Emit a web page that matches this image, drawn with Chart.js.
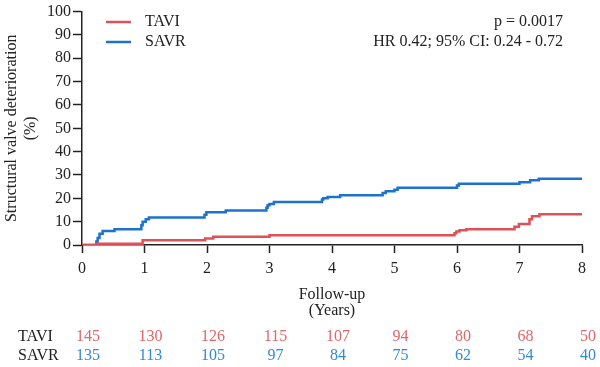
<!DOCTYPE html>
<html>
<head>
<meta charset="utf-8">
<script src="https://cdn.jsdelivr.net/npm/chart.js@4"></script>
<style>
  html, body { margin: 0; padding: 0; background: #fff; }
  #wrap { width: 600px; height: 367px; }
</style>
</head>
<body>
<div id="wrap"><canvas id="svdChart" width="600" height="367"></canvas></div>
<script>
// Cumulative incidence of structural valve deterioration (%)
const taviTimes  = [0, 0.23, 0.97, 1.97, 2.10, 3.00, 5.96, 5.99, 6.04, 6.15, 6.92, 6.99, 7.16, 7.20, 7.32, 8];
const taviValues = [0, 0.5, 2.0, 2.8, 3.5, 4.2, 5.0, 5.8, 6.3, 6.8, 7.8, 9.0, 11.0, 12.3, 13.2, 13.2];

const savrTimes  = [0, 0.23, 0.25, 0.28, 0.33, 0.52, 0.95, 0.97, 1.02, 1.07, 1.96, 1.99, 2.30, 2.95, 2.97, 3.00, 3.07,
                    3.84, 3.86, 3.93, 4.13, 4.81, 4.86, 5.00, 5.05, 6.00, 6.03, 7.00, 7.17, 7.31, 8];
const savrValues = [0, 1.5, 3.0, 4.8, 6.0, 6.7, 8.5, 10.0, 11.0, 11.8, 13.0, 14.0, 14.8, 16.0, 17.0, 17.6, 18.4,
                    19.5, 20.0, 20.6, 21.3, 22.3, 23.0, 23.7, 24.5, 25.5, 26.2, 26.9, 27.7, 28.4, 28.4];

// numbers at risk
const riskYears = [0, 1, 2, 3, 4, 5, 6, 7, 8];
const taviAtRisk = [145, 130, 126, 115, 107, 94, 80, 68, 50];
const savrAtRisk = [135, 113, 105, 97, 84, 75, 62, 54, 40];

const statLines = ['p = 0.0017', 'HR 0.42; 95% CI: 0.24 - 0.72'];

const taviColor = '#DE5158';
const savrColor = '#1E72CF';
const taviTextColor = '#E0676B';
const savrTextColor = '#3389D5';
const FONT = '"Liberation Serif", "Times New Roman", serif';

function toPoints(xs, ys) {
    return xs.map((x, i) => ({ x: x, y: ys[i] }));
}

// legend, stats text and the at-risk table
const extrasPlugin = {
    id: 'extras',
    afterDraw(chart) {
        const ctx = chart.ctx;
        const xScale = chart.scales.x;
        ctx.save();
        ctx.font = '16px ' + FONT;
        ctx.textBaseline = 'middle';

        // legend
        const legendRows = [22, 42];
        chart.data.datasets.forEach((ds, i) => {
            ctx.strokeStyle = ds.borderColor;
            ctx.lineWidth = 2.5;
            ctx.beginPath();
            ctx.moveTo(106, legendRows[i]);
            ctx.lineTo(131, legendRows[i]);
            ctx.stroke();
            ctx.fillStyle = '#222';
            ctx.textAlign = 'left';
            ctx.fillText(ds.label, 145, legendRows[i]);
        });

        // p value / HR
        ctx.textAlign = 'right';
        ctx.fillStyle = '#222';
        ctx.fillText(statLines[0], 563, 22);
        ctx.fillText(statLines[1], 563, 42);

        // numbers at risk
        const rows = [
            { label: 'TAVI', values: taviAtRisk, color: taviTextColor, y: 337 },
            { label: 'SAVR', values: savrAtRisk, color: savrTextColor, y: 356 }
        ];
        rows.forEach(r => {
            ctx.textAlign = 'left';
            ctx.fillStyle = '#222';
            ctx.fillText(r.label, 18, r.y);
            ctx.textAlign = 'center';
            ctx.fillStyle = r.color;
            riskYears.forEach((yr, i) => {
                ctx.fillText(String(r.values[i]), xScale.getPixelForValue(yr) + 6, r.y);
            });
        });
        ctx.restore();
    }
};

function initChart() {
    const ctx = document.getElementById('svdChart').getContext('2d');
    new Chart(ctx, {
        type: 'line',
        data: {
            datasets: [
                {
                    label: 'TAVI',
                    data: toPoints(taviTimes, taviValues),
                    borderColor: taviColor,
                    borderWidth: 2.5,
                    stepped: 'before',
                    pointRadius: 0,
                    fill: false
                },
                {
                    label: 'SAVR',
                    data: toPoints(savrTimes, savrValues),
                    borderColor: savrColor,
                    borderWidth: 2.5,
                    stepped: 'before',
                    pointRadius: 0,
                    fill: false
                }
            ]
        },
        options: {
            responsive: false,
            animation: false,
            layout: { padding: { top: 10, right: 18, bottom: 48, left: 0 } },
            plugins: {
                legend: { display: false },
                tooltip: { enabled: false }
            },
            scales: {
                x: {
                    type: 'linear',
                    min: 0,
                    max: 8,
                    afterFit(scale) { scale.height = 74; },
                    ticks: {
                        stepSize: 1,
                        color: '#222',
                        padding: 6,
                        maxRotation: 0,
                        font: { family: FONT, size: 16 }
                    },
                    grid: { drawOnChartArea: false, tickLength: 8, color: '#222', tickWidth: 1.5 },
                    border: { color: '#222', width: 1.5 },
                    title: {
                        display: true,
                        text: ['Follow-up', '(Years)'],
                        color: '#222',
                        padding: { top: 0, bottom: 0 },
                        font: { family: FONT, size: 16, lineHeight: 1.0 }
                    }
                },
                y: {
                    min: 0,
                    max: 100,
                    afterFit(scale) { scale.width = 82; },
                    ticks: {
                        stepSize: 10,
                        color: '#222',
                        padding: 2,
                        font: { family: FONT, size: 16 }
                    },
                    grid: { drawOnChartArea: false, tickLength: 9, color: '#222', tickWidth: 1.5 },
                    border: { color: '#222', width: 1.5 },
                    title: {
                        display: true,
                        text: ['Structural valve deterioration', '(%)'],
                        color: '#222',
                        padding: { top: 3, bottom: 0 },
                        font: { family: FONT, size: 16, lineHeight: 1.15 }
                    }
                }
            }
        },
        plugins: [extrasPlugin]
    });
}

window.onload = () => {
    initChart();
};
</script>
</body>
</html>
